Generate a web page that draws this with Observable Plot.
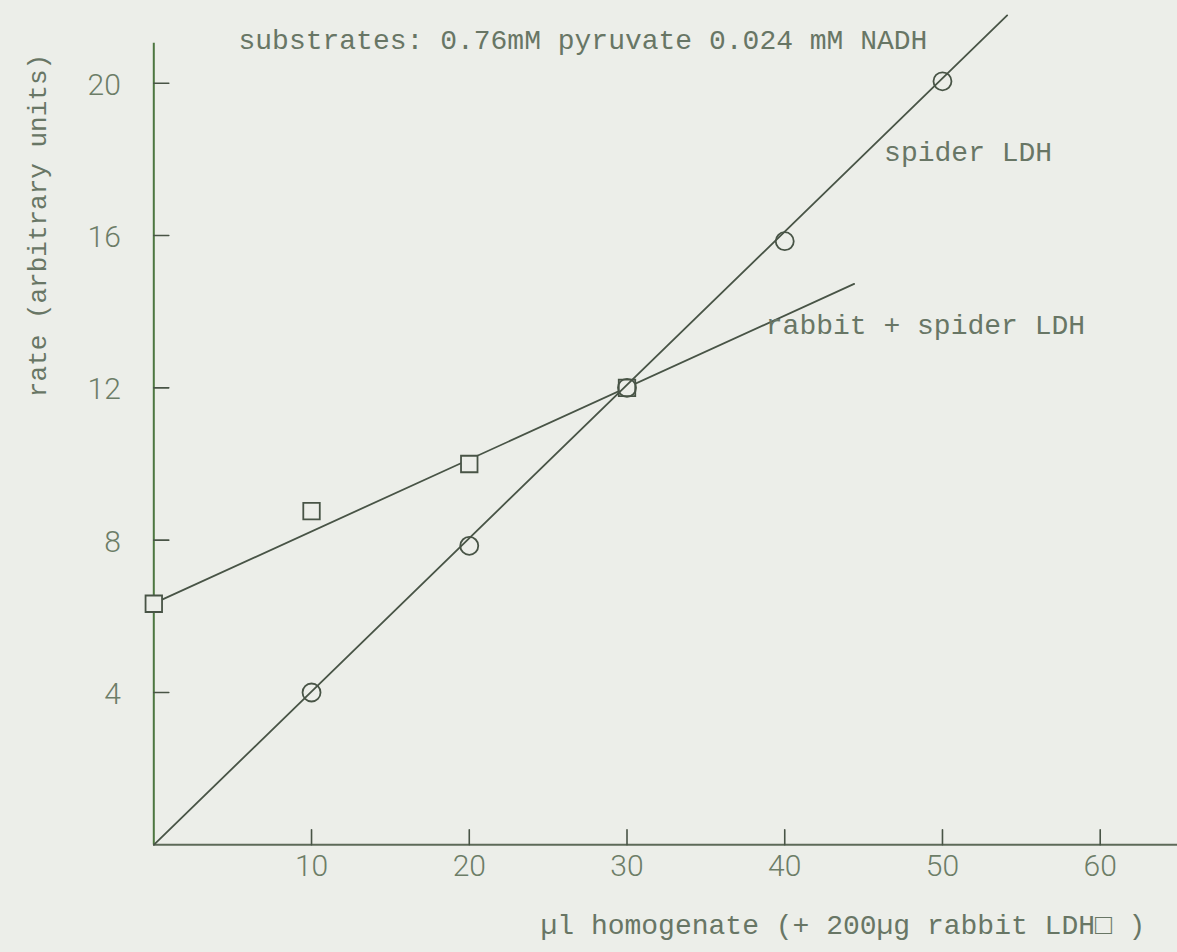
<!DOCTYPE html>
<html>
<head>
<meta charset="utf-8">
<script src="https://cdn.jsdelivr.net/npm/d3@7"></script>
<script src="https://cdn.jsdelivr.net/npm/@observablehq/plot@0.6"></script>
<style>
  html, body { margin: 0; padding: 0; background: #eceee9; }
  #chart svg { display: block; }
</style>
</head>
<body>
<div id="chart"></div>
<script>
// Spider LDH alone (open circles): µl homogenate → rate
const spiderVolume = [10, 20, 30, 40, 50];
const spiderRate = [4.0, 7.85, 12.0, 15.85, 20.05];

// Spider homogenate + 200 µg rabbit LDH (open squares)
const mixVolume = [0, 10, 20, 30];
const mixRate = [6.33, 8.76, 10.0, 12.0];

// Drawn-in straight lines through each series (end points)
const spiderFitVolume = [0, 54.1];
const spiderFitRate = [0, 21.78];
const mixFitVolume = [0, 44.4];
const mixFitRate = [6.34, 14.73];

// Axis ticks
const xTicks = [10, 20, 30, 40, 50, 60];
const yTicks = [4, 8, 12, 16, 20];

const spider = spiderVolume.map((v, i) => ({volume: v, rate: spiderRate[i]}));
const mix = mixVolume.map((v, i) => ({volume: v, rate: mixRate[i]}));
const spiderFit = spiderFitVolume.map((v, i) => ({volume: v, rate: spiderFitRate[i]}));
const mixFit = mixFitVolume.map((v, i) => ({volume: v, rate: mixFitRate[i]}));

const paper = "#eceee9";
const ink = "#485446";
const axisInk = "#4d7640";
const typeInk = "#687665";
const typeFont = "'Liberation Mono', 'DejaVu Sans Mono', monospace";
const numFont = "Roboto, 'Liberation Sans', sans-serif";

// plain straight tick: a vector drawn as a single stroke
const tickShape = {draw(context, l) { context.moveTo(0, 0); context.lineTo(0, -l); }};

const typeStyle = {fontFamily: typeFont, fill: typeInk, lineAnchor: "middle"};
const numStyle = {fontFamily: numFont, fontWeight: 300, fontSize: 30, fill: "#6c7d67", lineAnchor: "middle"};

const chart = Plot.plot({
  width: 1177,
  height: 952,
  marginLeft: 153.3,
  marginRight: 0,
  marginTop: 42.7,
  marginBottom: 107.7,
  x: {domain: [0, 64.9], axis: null},
  y: {domain: [0, 21.05], axis: null},
  style: {background: paper, overflow: "visible"},
  marks: [
    // axes
    Plot.ruleX([0], {y1: 0, y2: 21.05, stroke: axisInk, strokeWidth: 2}),
    Plot.ruleY([0], {x1: 0, x2: 64.9, stroke: "#5d6a58", strokeWidth: 2}),
    Plot.vector(yTicks, {x: 0, y: d => d, rotate: 90, length: 15, anchor: "start", shape: tickShape, stroke: ink, strokeWidth: 1.6}),
    Plot.vector(xTicks, {x: d => d, y: 0, rotate: 0, length: 15, anchor: "start", shape: tickShape, stroke: ink, strokeWidth: 1.6}),
    Plot.text(yTicks, {x: 0, y: d => d, text: d => String(d), textAnchor: "end", dx: -33, dy: 2, ...numStyle}),
    Plot.text(xTicks, {x: d => d, y: 0, text: d => String(d), textAnchor: "middle", dy: 22, ...numStyle}),

    // rabbit + spider LDH
    Plot.line(mixFit, {x: "volume", y: "rate", stroke: ink, strokeWidth: 1.8}),
    Plot.dot(mix, {x: "volume", y: "rate", symbol: "square", r: 9.3, fill: paper, stroke: ink, strokeWidth: 1.8}),

    // spider LDH
    Plot.line(spiderFit, {x: "volume", y: "rate", stroke: ink, strokeWidth: 1.8}),
    Plot.dot(spider, {x: "volume", y: "rate", symbol: "circle", r: 9, fill: "none", stroke: ink, strokeWidth: 1.8}),

    // series labels
    Plot.text(["spider LDH"], {x: 46.3, y: 18.2, text: d => d, textAnchor: "start", fontSize: 28, ...typeStyle}),
    Plot.text(["rabbit + spider LDH"], {x: 38.8, y: 13.66, text: d => d, textAnchor: "start", fontSize: 28, ...typeStyle}),

    // heading and axis titles
    Plot.text(["substrates: 0.76mM pyruvate 0.024 mM NADH"], {frameAnchor: "top-left", text: d => d,
      textAnchor: "start", dx: 84.7, dy: -3, fontSize: 28, ...typeStyle}),
    Plot.text(["µl homogenate (+ 200µg rabbit LDH\u25A1 )"], {frameAnchor: "bottom-left", text: d => d,
      textAnchor: "start", dx: 386.7, dy: 80, fontSize: 28, ...typeStyle}),
    Plot.text(["rate (arbitrary units)"], {frameAnchor: "top-left", text: d => d, rotate: -90,
      textAnchor: "middle", dx: -116.3, dy: 182.3, fontSize: 26, ...typeStyle})
  ]
});

document.getElementById("chart").appendChild(chart);
</script>
</body>
</html>
